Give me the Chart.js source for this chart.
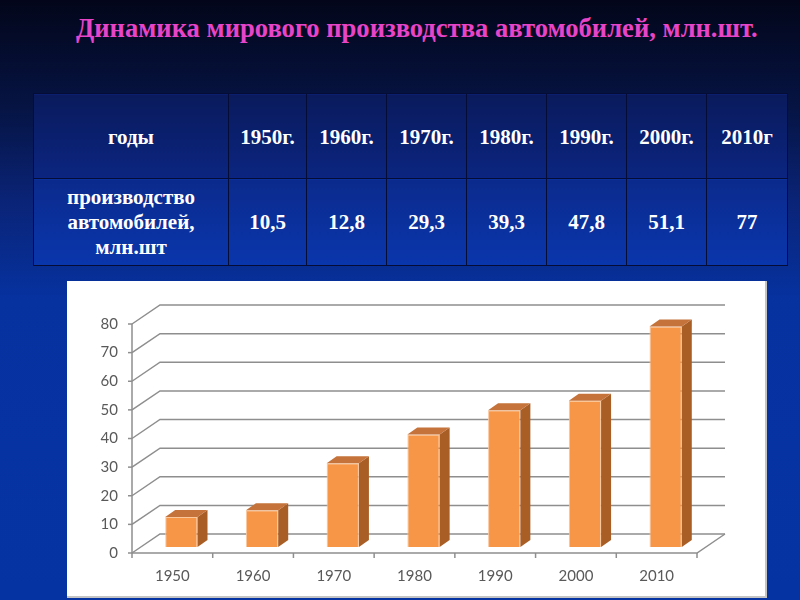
<!DOCTYPE html>
<html>
<head>
<meta charset="utf-8">
<script src="https://cdn.jsdelivr.net/npm/chart.js@4/dist/chart.umd.min.js"></script>
<style>
  html, body { margin: 0; padding: 0; }
  body {
    width: 800px; height: 600px; overflow: hidden; position: relative;
    background: linear-gradient(to bottom, #03061a 0%, #061444 18%, #0a2478 34%, #0632a0 50%, #0534a2 100%);
  }
  #title {
    position: absolute; left: 76px; top: 13px;
    font-family: "Liberation Serif", "Times New Roman", serif; font-weight: bold; font-size: 26.6px;
    color: #e844c8; white-space: nowrap;
  }
  #tbl {
    position: absolute; left: 33px; top: 93px; width: 754px; height: 172px;
    border-collapse: collapse; table-layout: fixed;
    font-family: "Liberation Serif", "Times New Roman", serif; font-weight: bold; font-size: 21px; color: #fff;
  }
  #tbl td { border: 1.5px solid #050c36; text-align: center; padding: 0; line-height: 25px; }
  #tbl tr.head td { height: 81px; background: linear-gradient(to bottom, #0a1a5c, #0b2580); padding-top: 3px; }
  #tbl tr.vals td { height: 86px; background: linear-gradient(to bottom, #0b2a8c, #0a36ac); }
  #box {
    position: absolute; left: 67px; top: 281px; width: 700px; height: 317px;
    background: #fff; box-shadow: inset -2px -2px 0 #c4c4c4;
  }
</style>
</head>
<body>
<div id="title">Динамика мирового производства автомобилей, млн.шт.</div>
<table id="tbl">
  <colgroup>
    <col style="width:195px"><col style="width:78px"><col style="width:80px"><col style="width:80px">
    <col style="width:80px"><col style="width:80px"><col style="width:80px"><col style="width:81px">
  </colgroup>
  <tr class="head" id="rowHead"></tr>
  <tr class="vals" id="rowVals"></tr>
</table>
<div id="box"><canvas id="chart"></canvas></div>
<script>
const years = ['1950', '1960', '1970', '1980', '1990', '2000', '2010'];
const yearHeads = ['1950г.', '1960г.', '1970г.', '1980г.', '1990г.', '2000г.', '2010г'];
const production = [10.5, 12.8, 29.3, 39.3, 47.8, 51.1, 77];
const yTicks = [0, 10, 20, 30, 40, 50, 60, 70, 80];

// table above the chart
let headHtml = '<td>годы</td>';
let valHtml = '<td>производство<br>автомобилей,<br>млн.шт</td>';
years.forEach((y, i) => {
    headHtml += `<td>${yearHeads[i]}</td>`;
    valHtml += `<td>${String(production[i]).replace('.', ',')}</td>`;
});
document.getElementById('rowHead').innerHTML = headHtml;
document.getElementById('rowVals').innerHTML = valHtml;

// 3d look: back wall offset, bar offset inside the depth, bar depth
const wall = { dx: 28, dy: -19 };
const barShift = { dx: 9, dy: -6 };
const barDepth = { dx: 10, dy: -7 };

const box3d = {
    id: 'box3d',
    beforeDatasetsDraw(chart) {
        const ctx = chart.ctx;
        const ys = chart.scales.y;
        const left = chart.chartArea.left, right = chart.chartArea.right;
        ctx.save();
        ctx.strokeStyle = '#8e8e8e';
        ctx.lineWidth = 1.5;
        yTicks.forEach(v => {
            const py = ys.getPixelForValue(v);
            ctx.beginPath();
            ctx.moveTo(left, py);
            ctx.lineTo(left + wall.dx, py + wall.dy);
            ctx.lineTo(right + wall.dx, py + wall.dy);
            ctx.stroke();
            // small tick on the front axis
            ctx.beginPath();
            ctx.moveTo(left - 4, py);
            ctx.lineTo(left, py);
            ctx.stroke();
        });
        // floor front edge and right edge
        const p0 = ys.getPixelForValue(0);
        ctx.beginPath();
        ctx.moveTo(left, p0);
        ctx.lineTo(right, p0);
        ctx.lineTo(right + wall.dx, p0 + wall.dy);
        ctx.stroke();
        // front vertical axis
        ctx.beginPath();
        ctx.moveTo(left, ys.getPixelForValue(yTicks[yTicks.length - 1]));
        ctx.lineTo(left, p0);
        ctx.stroke();
        // category ticks under the floor
        const step = (right - left) / years.length;
        for (let i = 0; i <= years.length; i++) {
            const px = left + step * i;
            ctx.beginPath();
            ctx.moveTo(px, p0);
            ctx.lineTo(px, p0 + 5);
            ctx.stroke();
        }
        ctx.restore();
        // move the bars into the middle of the depth
        ctx.save();
        ctx.translate(barShift.dx, barShift.dy);
    },
    afterDatasetsDraw(chart) {
        const ctx = chart.ctx;
        chart.getDatasetMeta(0).data.forEach(bar => {
            const l = bar.x - bar.width / 2, r = bar.x + bar.width / 2;
            const t = bar.y, b = bar.base;
            ctx.fillStyle = '#a95e26';
            ctx.beginPath();
            ctx.moveTo(r, t);
            ctx.lineTo(r + barDepth.dx, t + barDepth.dy);
            ctx.lineTo(r + barDepth.dx, b + barDepth.dy);
            ctx.lineTo(r, b);
            ctx.closePath();
            ctx.fill();
            ctx.fillStyle = '#c5733a';
            ctx.beginPath();
            ctx.moveTo(l, t);
            ctx.lineTo(l + barDepth.dx, t + barDepth.dy);
            ctx.lineTo(r + barDepth.dx, t + barDepth.dy);
            ctx.lineTo(r, t);
            ctx.closePath();
            ctx.fill();
        });
        ctx.restore();
    }
};

const ctx = document.getElementById('chart').getContext('2d');
new Chart(ctx, {
    type: 'bar',
    data: {
        labels: years,
        datasets: [{
            data: production,
            backgroundColor: '#f79646',
            borderColor: '#fbc79c',
            borderWidth: 1,
            barPercentage: 0.4,
            categoryPercentage: 1
        }]
    },
    options: {
        responsive: true,
        maintainAspectRatio: false,
        animation: false,
        layout: { padding: { left: 10, top: 43, right: 70, bottom: 0 } },
        plugins: { legend: { display: false }, tooltip: { enabled: false } },
        scales: {
            x: {
                grid: { display: false, drawTicks: false },
                border: { display: false },
                ticks: { color: '#595959', font: { family: 'Lato', size: 15 }, padding: 14, maxRotation: 0 },
                afterFit: s => { s.height = 45; }
            },
            y: {
                min: 0,
                max: 80,
                grid: { display: false, drawTicks: false },
                border: { display: false },
                ticks: { stepSize: 10, color: '#595959', font: { family: 'Lato', size: 15 }, padding: 14 },
                afterFit: s => { s.width = 55; }
            }
        }
    },
    plugins: [box3d]
});
</script>
</body>
</html>
